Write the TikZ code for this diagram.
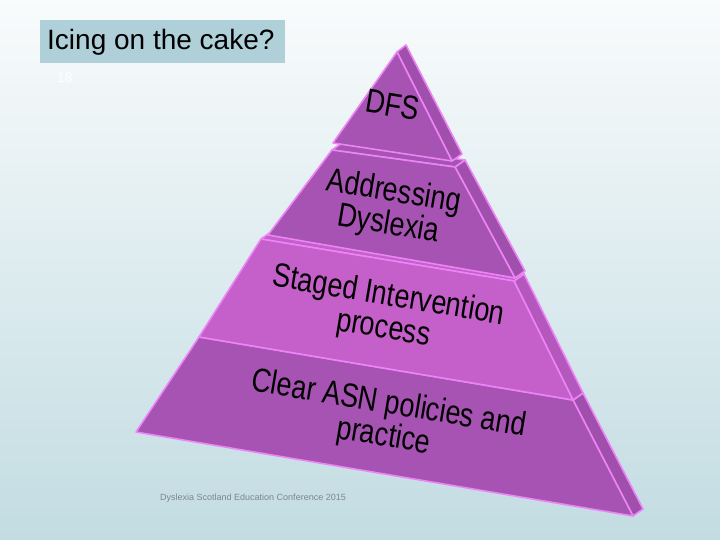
\documentclass[tikz,border=0pt]{standalone}
\usepackage{fontspec}
\usepackage{graphicx}
\setmainfont{Liberation Sans}
\definecolor{bgtop}{HTML}{F9FBFC}
\definecolor{bgbot}{HTML}{C2DCE2}
\definecolor{titlebg}{HTML}{AFD0D8}
\definecolor{tierdark}{HTML}{A753B3}
\definecolor{tierlight}{HTML}{C55FCA}
\definecolor{sidedark}{HTML}{A04FAD}
\definecolor{sidelight}{HTML}{B558BE}
\definecolor{edgepink}{HTML}{EC84F6}
\definecolor{footgray}{HTML}{7D878C}
\newcommand{\tallline}[1]{\scalebox{1}[1.24]{#1}}
\tikzset{
  face/.style={draw=edgepink, line width=1.6pt, line join=round},
  label/.style={font=\fontsize{27}{33}\selectfont, text=black, align=center, rotate=-9.5, inner sep=0pt},
}
\begin{document}
\begin{tikzpicture}[x=1pt,y=-1pt]
\useasboundingbox (0,0) rectangle (720,540);
\shade[top color=bgtop, bottom color=bgbot] (0,0) rectangle (720,540);
% title
\node[fill=titlebg, minimum width=245pt, minimum height=43pt, anchor=north west, inner sep=0pt] (titlebox) at (40,20) {};
\node[anchor=west, font=\fontsize{28}{30}\selectfont, inner sep=0pt] (title) at (47,42) {Icing on the cake?};
\node[anchor=west, font=\fontsize{14}{16}\selectfont, text=white, inner sep=0pt] (slideno) at (57,78) {18};
% tier 4 (bottom)
\fill[face, fill=sidedark] (573,400) -- (583,393) -- (643,509) -- (633,516) -- cycle;
\fill[face, fill=tierdark] (199,337) -- (573,400) -- (583,393) -- (209,330) -- cycle;
\fill[face, fill=tierdark] (199,337) -- (573,400) -- (633,516) -- (136,432) -- cycle;
% tier 3
\fill[face, fill=sidelight] (514,281) -- (524,274) -- (583,393) -- (573,400) -- cycle;
\fill[face, fill=tierlight] (261,239) -- (514,281) -- (524,274) -- (271,232) -- cycle;
\fill[face, fill=tierlight] (261,239) -- (514,281) -- (573,400) -- (199,337) -- cycle;
% tier 2
\fill[face, fill=sidedark] (455,167) -- (465,160) -- (525,271) -- (515,278) -- cycle;
\fill[face, fill=tierdark] (332,150) -- (455,167) -- (465,160) -- (342,143) -- cycle;
\fill[face, fill=tierdark] (332,150) -- (455,167) -- (515,278) -- (268,235) -- cycle;
% tier 1 (top)
\fill[face, fill=sidedark] (397,52) -- (406,45) -- (462,154) -- (452,161) -- cycle;
\fill[face, fill=tierdark] (397,52) -- (452,161) -- (333,143) -- cycle;
% labels
\node[label] (dfs) at (393,105) {\tallline{DFS}};
\node[label] (addr) at (391,209) {\tallline{Addressing}\\\tallline{Dyslexia}};
\node[label] (staged) at (386,313) {\tallline{Staged Intervention}\\\tallline{process}};
\node[label] (clear) at (386,421) {\tallline{Clear ASN policies and}\\\tallline{practice}};
% footer
\node[anchor=west, font=\fontsize{9}{10}\selectfont, text=footgray, inner sep=0pt] (footer) at (160,498) {Dyslexia Scotland Education Conference 2015};
\end{tikzpicture}
\end{document}
